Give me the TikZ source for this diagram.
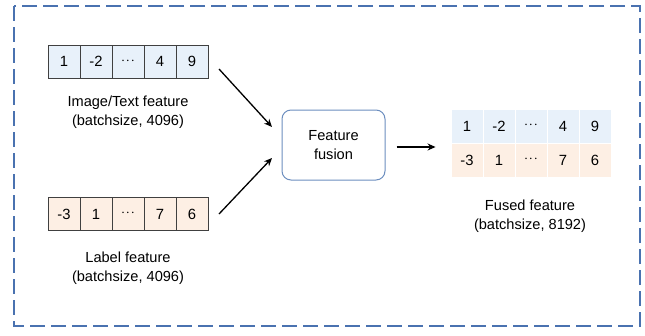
\documentclass[tikz,border=0pt]{standalone}
\usepackage{fontspec}
\setmainfont{Liberation Sans}
\usetikzlibrary{arrows.meta}
\definecolor{frameblue}{HTML}{4A72B0}
\definecolor{boxblue}{HTML}{6C8EBF}
\definecolor{cellblue}{HTML}{E8F1FA}
\definecolor{cellorange}{HTML}{FDEFE4}
\definecolor{cellline}{HTML}{404040}
\tikzset{
  cellA/.style={draw=cellline, line width=0.9pt, minimum width=32pt, minimum height=33pt, inner sep=0pt, font=\fontsize{14.8}{16}\selectfont},
  cellB/.style={draw=white, line width=0.9pt, minimum width=32pt, minimum height=34pt, inner sep=0pt, font=\fontsize{14.8}{16}\selectfont},
  caption/.style={align=center, font=\fontsize{14.6}{19}\selectfont, inner sep=0pt},
  flow/.style={-{Stealth[length=8pt,width=7pt]}, line width=1.3pt}
}
\newcommand{\dotsx}{\raisebox{1pt}{$\cdot\!\cdot\!\cdot$}}
\begin{document}
\begin{tikzpicture}[x=1pt,y=-1pt]
\useasboundingbox (0,0) rectangle (645,335);
% outer dashed frame
\draw[frameblue, line width=2pt, dash pattern=on 15pt off 6pt] (14,6) rectangle (640,326);

% image/text feature vector
\foreach \v [count=\i] in {1,-2,\dotsx,4,9}
  \node[cellA, fill=cellblue] (t\i) at ({48+32*\i-16},61.5) {\v};
\node[caption] (tcap) at (128,112) {Image/Text feature\\(batchsize, 4096)};

% label feature vector
\foreach \v [count=\i] in {-3,1,\dotsx,7,6}
  \node[cellA, fill=cellorange] (b\i) at ({48+32*\i-16},214) {\v};
\node[caption] (bcap) at (128,268) {Label feature\\(batchsize, 4096)};

% fusion block
\node[draw=boxblue, line width=1pt, rounded corners=9pt, minimum width=103pt, minimum height=70pt, align=center, font=\fontsize{14.6}{19}\selectfont] (fus) at (333.5,145) {Feature\\fusion};

% fused feature table
\foreach \v [count=\i] in {1,-2,\dotsx,4,9}
  \node[cellB, fill=cellblue] (f\i) at ({451+32*\i-16},126) {\v};
\foreach \v [count=\i] in {-3,1,\dotsx,7,6}
  \node[cellB, fill=cellorange] (g\i) at ({451+32*\i-16},160) {\v};
\node[caption] (fcap) at (530,216) {Fused feature\\(batchsize, 8192)};

% connectors
\coordinate (ta) at (219,69);
\coordinate (ba) at (219,214);
\draw[flow] (ta) -- (272,127);
\draw[flow] (ba) -- (272,158);
\draw[flow] ([xshift=11pt,yshift=-2pt]fus.east) -- ([xshift=-15pt,yshift=-2pt]fus.east -| f1.west);
\end{tikzpicture}
\end{document}
